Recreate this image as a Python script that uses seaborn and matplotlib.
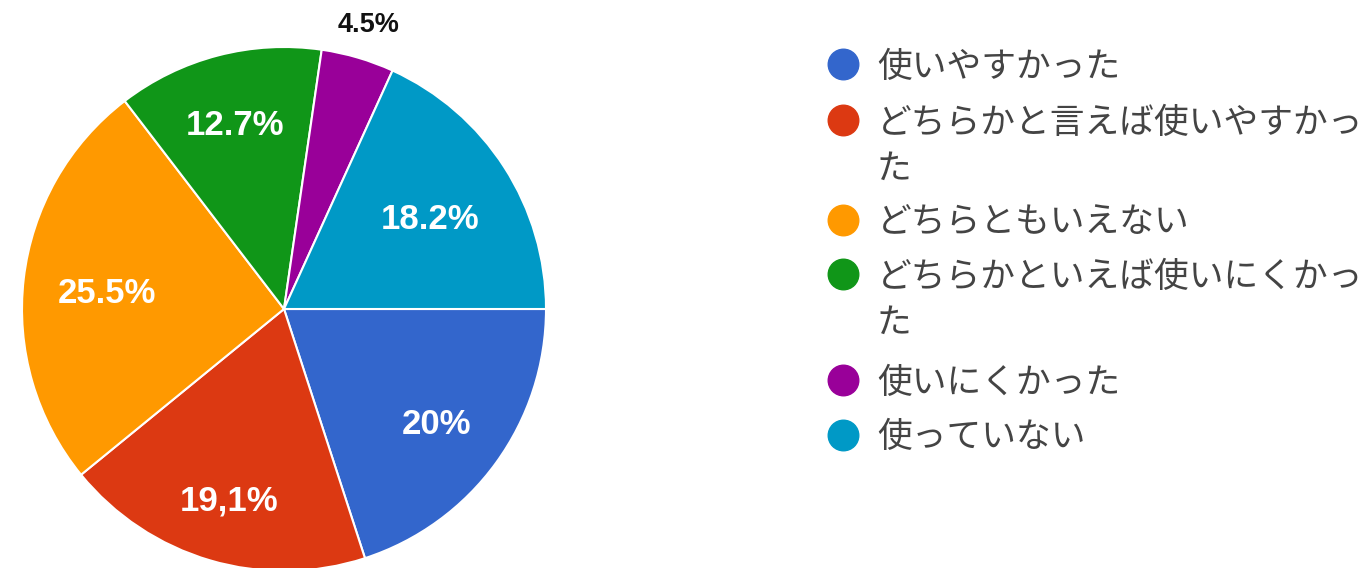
import matplotlib.pyplot as plt
import matplotlib.transforms as mtransforms
import seaborn as sns
import numpy as np

# Datos
categorias = ['使いやすかった', 'どちらかと言えば使いやすかった', 'どちらともいえない',
              'どちらかといえば使いにくかった', '使いにくかった', '使っていない']
# etiquetas de la leyenda (con el salto de línea como en la imagen)
leyenda = ['使いやすかった', 'どちらかと言えば使いやすかっ\nた', 'どちらともいえない',
           'どちらかといえば使いにくかっ\nた', '使いにくかった', '使っていない']
valores = [20.0, 19.1, 25.5, 12.7, 4.5, 18.2]
etiquetas = ['20%', '19,1%', '25.5%', '12.7%', '4.5%', '18.2%']
colores = ['#3366cc', '#dc3912', '#ff9900', '#109618', '#990099', '#0099c6']

sns.set_style('white')
plt.rcParams['font.family'] = ['Noto Sans CJK JP', 'DejaVu Sans']

W, H = 1370, 568
fig = plt.figure(figsize=(W / 100, H / 100), dpi=100)

# eje cuadrado para la tarta (centro ~ (284, 309), radio ~262 px)
cx, cy, r = 284, 309, 262
ax = fig.add_axes([(cx - r) / W, (H - cy - r) / H, 2 * r / W, 2 * r / H])
wedges, _ = ax.pie(valores, colors=sns.color_palette(colores), startangle=0,
                   counterclock=False, radius=1,
                   wedgeprops=dict(edgecolor='white', linewidth=1.5))
ax.set_xlim(-1, 1)
ax.set_ylim(-1, 1)
ax.set_aspect('auto')
ax.axis('off')
for w in wedges:
    w.set_clip_on(False)

# etiquetas de porcentaje (un poco desplazadas hacia abajo)
trans = mtransforms.offset_copy(ax.transData, fig=fig, y=-5, units='dots')
dist = [0.72, 0.745, 0.68, 0.745, 1.15, 0.665]
for w, txt, d in zip(wedges, etiquetas, dist):
    ang = np.deg2rad((w.theta1 + w.theta2) / 2)
    x, y = d * np.cos(ang), d * np.sin(ang)
    if d > 1:
        ax.text(x, y, txt, ha='center', va='center', fontsize=19.5,
                fontweight='bold', color='#111111', family='Liberation Sans',
                clip_on=False, transform=trans)
    else:
        ax.text(x, y, txt, ha='center', va='center', fontsize=25,
                fontweight='bold', color='white', family='Liberation Sans',
                transform=trans)

# leyenda personalizada (marcador alineado con la primera línea)
fila_y = [64, 120, 220, 274, 380, 435]
for lab, col, yy in zip(leyenda, colores, fila_y):
    fig.add_artist(plt.Line2D([843 / W], [1 - yy / H], marker='o', markersize=22,
                              color=col, transform=fig.transFigure, linestyle=''))
    lineas = lab.split('\n')
    for i, ln in enumerate(lineas):
        fig.text(877 / W, 1 - (yy + 3 + i * 46) / H, ln, ha='left', va='center',
                 fontsize=25, color='#444444')

fig.savefig('out.png', dpi=100)
